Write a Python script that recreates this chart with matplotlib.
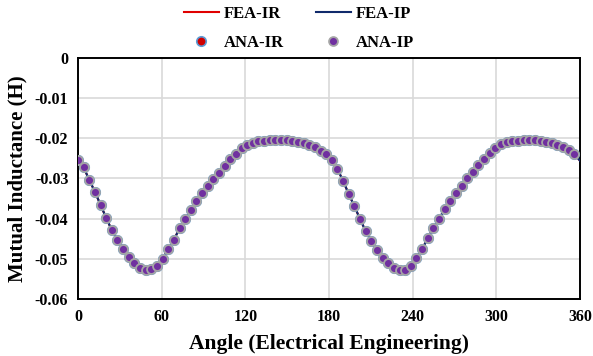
import matplotlib.pyplot as plt
import numpy as np

# marker angles (deg) – 89 samples, last one just short of 360
ANGLES = np.linspace(0, 356, 89)

ANA_IP = [
    -0.0253, -0.0272, -0.0304, -0.0333, -0.0366, -0.0398, -0.0429, -0.0453, -0.0476, -0.0495,
    -0.0510, -0.0522, -0.0528, -0.0526, -0.0518, -0.0500, -0.0476, -0.0453, -0.0424, -0.0402,
    -0.0379, -0.0357, -0.0337, -0.0320, -0.0301, -0.0286, -0.0268, -0.0252, -0.0239, -0.0225,
    -0.0217, -0.0211, -0.0208, -0.0206, -0.0205, -0.0205, -0.0204, -0.0205, -0.0206, -0.0209,
    -0.0212, -0.0217, -0.0223, -0.0232, -0.0240, -0.0254, -0.0277, -0.0306, -0.0339, -0.0369,
    -0.0401, -0.0431, -0.0456, -0.0478, -0.0497, -0.0510, -0.0523, -0.0528, -0.0527, -0.0517,
    -0.0499, -0.0476, -0.0449, -0.0423, -0.0401, -0.0376, -0.0355, -0.0336, -0.0318, -0.0300,
    -0.0283, -0.0267, -0.0252, -0.0237, -0.0224, -0.0215, -0.0210, -0.0208, -0.0206, -0.0205,
    -0.0204, -0.0204, -0.0206, -0.0209, -0.0213, -0.0217, -0.0223, -0.0229, -0.0239,
]
ANA_IR = list(ANA_IP)

# FEA curves run to 360 deg
FEA_ANGLES = list(ANGLES) + [360]
FEA_IR = ANA_IR + [-0.0256]
FEA_IP = ANA_IP + [-0.0256]

X_TICKS = [0, 60, 120, 180, 240, 300, 360]
Y_TICKS = [0, -0.01, -0.02, -0.03, -0.04, -0.05, -0.06]
Y_TICK_LABELS = ["0", "-0.01", "-0.02", "-0.03", "-0.04", "-0.05", "-0.06"]

plt.rcParams["font.family"] = ["Liberation Serif", "DejaVu Serif"]
plt.rcParams["font.weight"] = "bold"

fig = plt.figure(figsize=(5.93, 3.56), dpi=100)
ax = fig.add_axes([0.1315, 0.160, 0.8465, 0.6776])

l1, = ax.plot(FEA_ANGLES, FEA_IR, color="#e00000", linewidth=1.5, label="FEA-IR", zorder=2)
l2, = ax.plot(FEA_ANGLES, FEA_IP, color="#102a6b", linewidth=1.5, label="FEA-IP", zorder=3)
m1, = ax.plot(ANGLES, ANA_IR, linestyle="none", marker="o", markersize=6.8,
              markerfacecolor="#d00000", markeredgecolor="#5b9bd5", markeredgewidth=1.2,
              label="ANA-IR", zorder=4)
m2, = ax.plot(ANGLES, ANA_IP, linestyle="none", marker="o", markersize=6.4,
              markerfacecolor="#7030a0", markeredgecolor="#a5a5a5", markeredgewidth=1.3,
              label="ANA-IP", zorder=5)

ax.set_xlim(0, 360)
ax.set_ylim(-0.06, 0)
ax.set_xticks(X_TICKS)
ax.set_yticks(Y_TICKS)
ax.set_yticklabels(Y_TICK_LABELS)
ax.tick_params(length=0, labelsize=11.5, pad=7)
for lab in ax.get_xticklabels() + ax.get_yticklabels():
    lab.set_fontweight("bold")

ax.grid(True, color="#d9d9d9", linewidth=1.2)
ax.set_axisbelow(True)
for spine in ax.spines.values():
    spine.set_linewidth(1.4)
    spine.set_color("black")

ax.set_xlabel("Angle (Electrical Engineering)", fontsize=15.5, fontweight="bold", labelpad=7)
ax.set_ylabel("Mutual Inductance (H)", fontsize=15, fontweight="bold", labelpad=5)

fig.legend([l1, m1, l2, m2], ["FEA-IR", "ANA-IR", "FEA-IP", "ANA-IP"],
           loc="upper center", bbox_to_anchor=(0.504, 1.025), ncol=2, frameon=False,
           prop={"size": 12, "weight": "bold"}, handlelength=2.1,
           columnspacing=1.9, labelspacing=0.75, handletextpad=0.3)

fig.savefig("out.png", dpi=100)
